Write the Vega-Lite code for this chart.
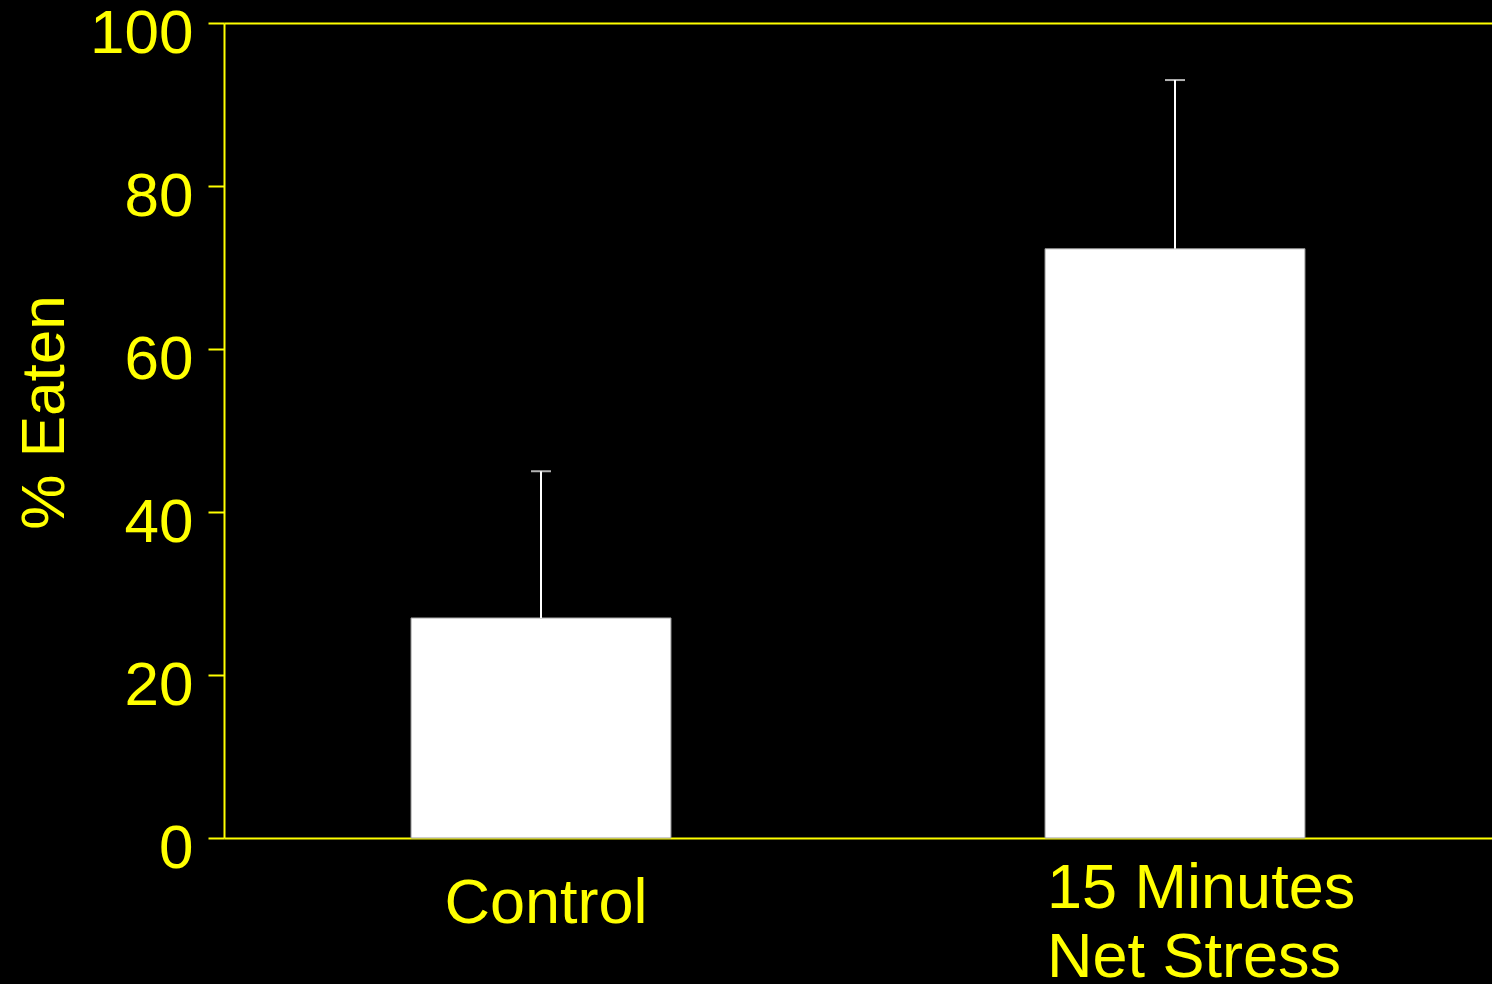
{
  "$schema": "https://vega.github.io/schema/vega-lite/v6.json",
  "background": "#000000",
  "autosize": {"type": "none"},
  "padding": {"left": 224, "top": 23, "right": 0, "bottom": 146},
  "width": 1268,
  "height": 815,
  "config": {
    "view": {"stroke": null},
    "font": "Liberation Sans"
  },
  "data": {
    "values": [
      {"group": "Control", "mean": 27, "upper": 45},
      {"group": "15 Minutes Net Stress", "mean": 72.3, "upper": 93}
    ]
  },
  "resolve": {"axis": {"x": "independent"}},
  "layer": [
    {
      "mark": {"type": "bar", "color": "#ffffff", "stroke": "#9a9a9a", "strokeWidth": 1},
      "encoding": {
        "x": {
          "field": "group",
          "type": "nominal",
          "sort": null,
          "scale": {"paddingInner": 0.59, "paddingOuter": 0.295},
          "axis": {
            "title": null,
            "domainColor": "#ffff00",
            "domainWidth": 2,
            "ticks": false,
            "labelAngle": 0,
            "labelLimit": 0,
            "labelColor": "#ffff00",
            "labelFont": "Liberation Sans",
            "labelFontSize": 63,
            "labelLineHeight": 69,
            "labelBaseline": "top",
            "labelExpr": "datum.value == '15 Minutes Net Stress' ? ['15 Minutes', 'Net Stress'] : datum.value",
            "labelAlign": {"condition": {"test": "datum.value == '15 Minutes Net Stress'", "value": "left"}, "value": "center"},
            "labelOffset": {"condition": {"test": "datum.value == '15 Minutes Net Stress'", "value": -128}, "value": 5},
            "labelPadding": {"condition": {"test": "datum.value == '15 Minutes Net Stress'", "value": 19}, "value": 34}
          }
        },
        "y": {
          "field": "mean",
          "type": "quantitative",
          "scale": {"domain": [0, 100], "nice": false},
          "axis": {
            "title": "% Eaten",
            "values": [0, 20, 40, 60, 80, 100],
            "grid": false,
            "domainColor": "#ffff00",
            "domainWidth": 2,
            "tickColor": "#ffff00",
            "tickWidth": 2,
            "tickSize": 16,
            "labelColor": "#ffff00",
            "labelFont": "Liberation Sans",
            "labelFontSize": 62,
            "labelPadding": 15,
            "labelOffset": 10,
            "labelBaseline": "middle",
            "titleColor": "#ffff00",
            "titleFont": "Liberation Sans",
            "titleFontSize": 62,
            "titleFontWeight": "normal",
            "titleAngle": 270,
            "titleAlign": "center",
            "titleBaseline": "alphabetic",
            "titleX": -161,
            "titleY": 389
          }
        }
      }
    },
    {
      "mark": {"type": "rule", "color": "#ffffff", "strokeWidth": 2},
      "encoding": {
        "x": {"field": "group", "type": "nominal", "sort": null, "axis": null},
        "y": {"field": "mean", "type": "quantitative"},
        "y2": {"field": "upper"}
      }
    },
    {
      "mark": {"type": "tick", "color": "#ffffff", "thickness": 2, "size": 20},
      "encoding": {
        "x": {
          "field": "group",
          "type": "nominal",
          "sort": null,
          "axis": {"orient": "top", "title": null, "labels": false, "ticks": false, "domainColor": "#ffff00", "domainWidth": 2}
        },
        "y": {"field": "upper", "type": "quantitative"}
      }
    }
  ]
}
